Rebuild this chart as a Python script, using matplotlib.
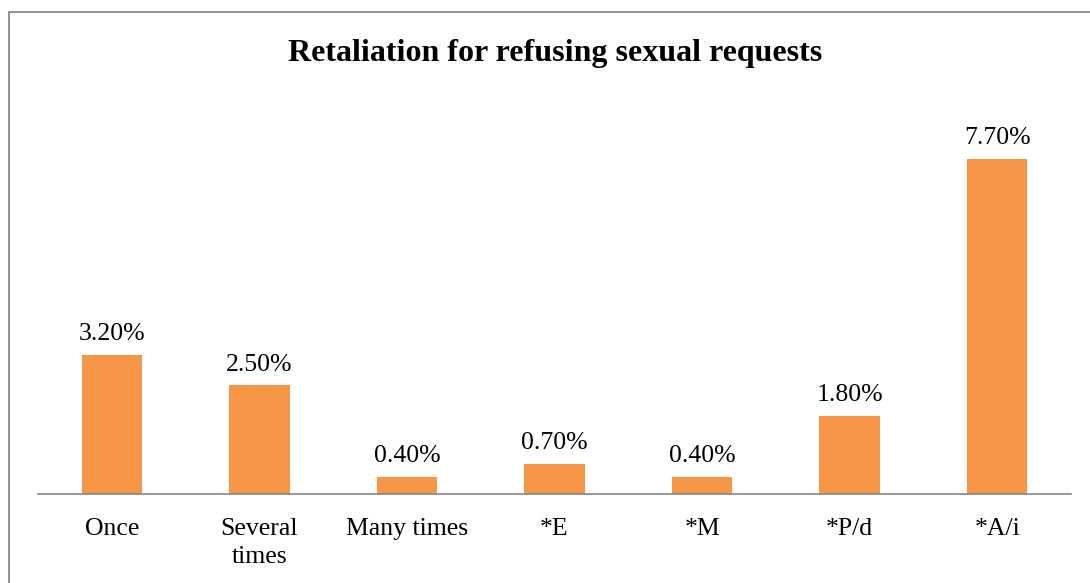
import matplotlib.pyplot as plt
from matplotlib.patches import Rectangle

categories = ["Once", "Several\ntimes", "Many times", "*E", "*M", "*P/d", "*A/i"]
values = [3.2, 2.5, 0.4, 0.7, 0.4, 1.8, 7.7]
title = "Retaliation for refusing sexual requests"

plt.rcParams["font.family"] = ["Liberation Serif", "DejaVu Serif"]

W, H = 1090, 583
fig = plt.figure(figsize=(W / 100, H / 100), dpi=100)
ax = fig.add_axes([38 / W, (H - 494) / H, 1033 / W, 391.5 / H])

x = range(len(categories))
bars = ax.bar(x, values, width=0.41, color="#F79646", zorder=2)
for b, v in zip(bars, values):
    ax.annotate(f"{v:.2f}%", (b.get_x() + b.get_width() / 2, v),
                xytext=(0, 7), textcoords="offset points",
                ha="center", va="bottom", fontsize=18.5)

ax.set_xlim(-0.5, len(categories) - 0.5)
ax.set_ylim(0, 9)
ax.set_xticks(list(x))
ax.set_xticklabels(categories, fontsize=18.5, linespacing=1.36)
ax.tick_params(axis="x", length=0, pad=17)
ax.set_yticks([])
for s in ["top", "right", "left"]:
    ax.spines[s].set_visible(False)
ax.spines["bottom"].set_color("#868686")
ax.spines["bottom"].set_linewidth(1.2)

fig.text(555 / W, 1 - 53 / H, title, ha="center", va="center",
         fontsize=23, fontweight="bold")

fig.patches.append(Rectangle((9 / W, -0.1), 1.2, 1.1 - 12 / H,
                             transform=fig.transFigure, fill=False,
                             edgecolor="#898989", linewidth=1.3))

fig.savefig("out.png", dpi=100)
